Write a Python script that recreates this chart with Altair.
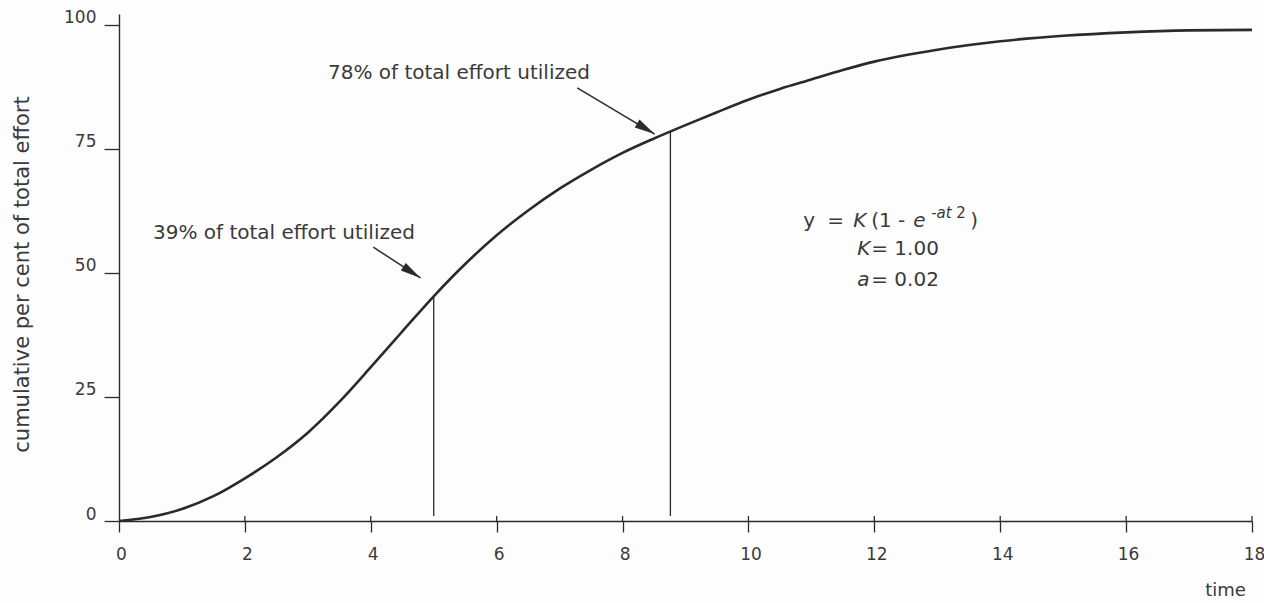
import altair as alt
import pandas as pd

# Cumulative effort curve, read point by point
time_vals = [0, 0.5, 1.0, 1.5, 2.0, 2.5, 3.0, 3.5, 4.0, 4.5, 5.0, 5.5, 6.0,
             6.5, 7.0, 7.5, 8.0, 8.5, 9.0, 9.5, 10.0, 10.5, 11.0, 11.5, 12.0,
             13.0, 14.0, 15.0, 16.0, 17.0, 18.0]
effort_vals = [0, 0.8, 2.4, 5.0, 8.6, 12.8, 17.8, 24.0, 31.0, 38.2, 45.3,
               51.8, 57.6, 62.6, 67.0, 70.8, 74.2, 77.1, 79.8, 82.4, 84.9,
               87.1, 89.0, 90.9, 92.6, 95.0, 96.7, 97.8, 98.5, 98.9, 99.0]

# Drop lines from the curve to the time axis
drop_t = [5.0, 8.76]
drop_top = [45.3, 78.5]
drop_bottom = [1.0, 1.0]

x_ticks = [0, 2, 4, 6, 8, 10, 12, 14, 16, 18]
y_ticks = [0, 25, 50, 75, 100]

# Annotation texts and the arrows that point at the curve
note_text = ["39% of total effort utilized", "78% of total effort utilized"]
note_t = [0.54, 3.32]
note_v = [58.1, 90.3]
arrow_t0 = [4.04, 7.28]
arrow_v0 = [55.2, 87.3]
arrow_t1 = [4.79, 8.51]
arrow_v1 = [49.0, 78.0]
arrow_angle = [123, 121]

FONT = "DejaVu Sans"
INK = "#2a2a2a"
TXT = "#3a3a3a"

xs = alt.Scale(domain=[0, 18], nice=False, zero=False)
ys = alt.Scale(domain=[0, 102.2], nice=False, zero=False)

curve_df = pd.DataFrame({"t": time_vals, "v": effort_vals})
drop_df = pd.DataFrame({"t": drop_t, "top": drop_top, "bottom": drop_bottom})
tick_df = pd.DataFrame({"t": x_ticks[1:], "lo": [0] * 9, "hi": [1.0] * 9})
note_df = pd.DataFrame({"label": note_text, "t": note_t, "v": note_v})
arrow_df = pd.DataFrame({"t0": arrow_t0, "v0": arrow_v0, "t1": arrow_t1,
                         "v1": arrow_v1, "ang": arrow_angle})

x_axis = alt.Axis(values=x_ticks, format="d", grid=False, domainColor=INK,
                  domainWidth=1.4, tickColor=INK, tickWidth=1.3, tickSize=11,
                  labelPadding=14, labelFont=FONT, labelFontSize=17,
                  labelColor=TXT, labelFontWeight="normal", labelFlush=False,
                  labelOffset=2, title="time",
                  titleFont=FONT, titleFontSize=18, titleFontWeight="normal",
                  titleColor=TXT, titleX=1106, titleY=69, titleAlign="center",
                  titleBaseline="middle")
y_axis = alt.Axis(values=y_ticks, format="d", grid=False, domainColor=INK,
                  domainWidth=1.4, tickColor=INK, tickWidth=1.3, tickSize=15,
                  labelPadding=8, labelFont=FONT, labelFontSize=17,
                  labelColor=TXT, labelBaseline="alphabetic", labelOffset=-2,
                  labelFlush=False,
                  title="cumulative per cent of total effort", titleFont=FONT,
                  titleFontSize=21, titleFontWeight="normal", titleColor=TXT,
                  titleAngle=270, titleX=-97, titleY=260, titleAlign="center",
                  titleBaseline="middle")

curve = alt.Chart(curve_df).mark_line(
    color=INK, strokeWidth=2.6, interpolate="monotone"
).encode(
    x=alt.X("t:Q", scale=xs, axis=x_axis),
    y=alt.Y("v:Q", scale=ys, axis=y_axis),
)

drops = alt.Chart(drop_df).mark_rule(color=INK, strokeWidth=1.3).encode(
    x=alt.X("t:Q", scale=xs), y=alt.Y("bottom:Q", scale=ys), y2="top:Q"
)

# short upper halves of the time ticks, so they cross the axis
upper_ticks = alt.Chart(tick_df).mark_rule(color=INK, strokeWidth=1.3).encode(
    x=alt.X("t:Q", scale=xs), y=alt.Y("lo:Q", scale=ys), y2="hi:Q"
)

notes = alt.Chart(note_df).mark_text(
    align="left", baseline="middle", font=FONT, fontSize=20, color=TXT
).encode(x=alt.X("t:Q", scale=xs), y=alt.Y("v:Q", scale=ys), text="label:N")

shafts = alt.Chart(arrow_df).mark_rule(color=INK, strokeWidth=1.5).encode(
    x=alt.X("t0:Q", scale=xs), y=alt.Y("v0:Q", scale=ys), x2="t1:Q", y2="v1:Q"
)

heads = alt.Chart(arrow_df).mark_point(
    shape="M0,0L0.45,2L-0.45,2Z", filled=True, size=420, color=INK,
    opacity=1, strokeWidth=0
).encode(
    x=alt.X("t1:Q", scale=xs), y=alt.Y("v1:Q", scale=ys),
    angle=alt.Angle("ang:Q", scale=None)
)

# Formula block, assembled piece by piece
formula_t = 10.87
formula_v = [59.3, 53.6, 47.4]


def piece(text, dx, v, italic=False, size=20, dy=0):
    return alt.Chart(pd.DataFrame({"t": [formula_t], "v": [v]})).mark_text(
        text=text, align="left", baseline="alphabetic", font=FONT,
        fontSize=size, fontStyle="italic" if italic else "normal",
        color=TXT, dx=dx, dy=dy
    ).encode(x=alt.X("t:Q", scale=xs), y=alt.Y("v:Q", scale=ys))


formula = [
    piece("y", 0, formula_v[0]),
    piece("=", 24, formula_v[0]),
    piece("K", 50, formula_v[0], italic=True),
    piece("(1 -", 68, formula_v[0]),
    piece("e", 110, formula_v[0], italic=True),
    piece("-at", 128, formula_v[0], italic=True, size=15, dy=-9),
    piece("2", 153, formula_v[0], size=15, dy=-9),
    piece(")", 167, formula_v[0]),
    piece("K", 54, formula_v[1], italic=True),
    piece("= 1.00", 68, formula_v[1]),
    piece("a", 54, formula_v[2], italic=True),
    piece("= 0.02", 68, formula_v[2]),
]

chart = alt.layer(
    drops, upper_ticks, curve, shafts, heads, notes, *formula
).properties(
    width=1133, height=507,
    padding={"left": 119, "top": 14, "right": 12, "bottom": 82},
    autosize=alt.AutoSizeParams(type="none"),
    background="#fdfdfd",
).configure_view(stroke=None)

chart.save("out.html", embed_options={"renderer": "svg", "actions": False})
